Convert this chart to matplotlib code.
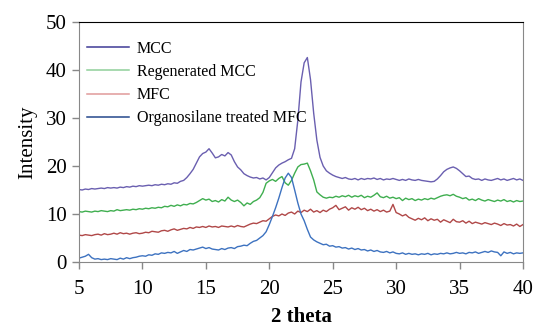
import numpy as np
import matplotlib
matplotlib.use("Agg")
import matplotlib.pyplot as plt
from matplotlib.lines import Line2D

plt.rcParams['font.family'] = ['Liberation Serif', 'DejaVu Serif']

two_theta = np.arange(5, 40.001, 0.25)

mcc = [
    15.1, 15.0, 15.2, 15.1,
    15.3, 15.2, 15.3, 15.4,
    15.3, 15.5, 15.4, 15.5,
    15.4, 15.6, 15.5, 15.7,
    15.6, 15.8, 15.7, 15.9,
    15.8, 15.9, 16.0, 15.9,
    16.1, 16.0, 16.2, 16.1,
    16.3, 16.2, 16.5, 16.4,
    16.8, 17.0, 17.6, 18.4,
    19.3, 20.6, 21.9, 22.6,
    22.9, 23.6, 22.7, 21.7,
    21.9, 22.4, 22.1, 22.8,
    22.3, 20.9, 19.8, 19.2,
    18.4, 18.0, 17.7, 17.5,
    17.6, 17.3, 17.5, 17.1,
    17.6, 18.6, 19.6, 20.2,
    20.6, 20.9, 21.3, 21.6,
    23.6, 29.5, 37.5, 41.5,
    42.6, 38.0, 31.0, 25.4,
    21.8, 20.0, 19.0, 18.5,
    18.1, 17.8, 17.6, 17.4,
    17.6, 17.3, 17.2, 17.4,
    17.1, 17.4, 17.2, 17.4,
    17.3, 17.5, 17.2, 17.4,
    17.1, 17.3, 17.2, 17.4,
    17.2, 17.0, 17.2, 17.0,
    17.3, 17.1, 17.0, 17.2,
    17.0, 16.9, 16.8, 16.7,
    16.8, 17.3, 18.0, 18.8,
    19.3, 19.6, 19.8, 19.5,
    19.0, 18.4, 17.8, 17.9,
    17.4, 17.2, 17.3, 17.0,
    17.3, 17.1, 17.0, 17.2,
    17.4, 17.1, 17.3, 17.0,
    17.2, 17.4, 17.1, 17.3,
    17.0,
]

regenerated_mcc = [
    10.5, 10.4, 10.6, 10.5,
    10.4, 10.6, 10.5, 10.7,
    10.6, 10.5, 10.7, 10.6,
    10.9, 10.7, 10.8, 10.9,
    10.8, 11.0, 10.9, 11.1,
    11.0, 11.2, 11.1, 11.3,
    11.2, 11.4, 11.3, 11.6,
    11.5, 11.8, 11.6, 11.9,
    11.7, 12.0, 11.9, 12.2,
    12.1, 12.4, 12.8, 13.2,
    12.9, 13.1, 12.6, 12.8,
    12.5, 13.0, 12.7, 13.5,
    12.9, 12.6, 12.9, 12.4,
    11.7, 12.3, 12.0, 12.6,
    12.9, 13.4, 14.5, 16.4,
    16.9, 17.2, 16.8, 17.4,
    17.8, 16.5, 16.0, 17.0,
    18.5, 19.8, 20.3, 20.4,
    20.6, 19.0, 17.1, 14.6,
    14.0, 13.5, 13.3, 13.5,
    13.4, 13.7, 13.5, 13.8,
    13.6, 13.9, 13.5, 13.8,
    13.6, 13.9, 13.4, 13.7,
    13.5, 13.9, 14.4, 13.6,
    13.4, 13.7, 13.3, 13.5,
    13.2, 13.4, 12.8, 13.3,
    13.0, 13.2, 12.8, 13.1,
    12.9, 13.2, 13.0, 13.3,
    13.1, 13.4, 13.7, 13.9,
    14.0, 13.8, 14.1, 13.7,
    13.5, 13.2, 13.4, 12.9,
    13.1, 12.8, 13.2, 12.9,
    12.7, 13.0, 12.8, 12.6,
    12.9, 12.7, 13.0, 12.6,
    12.8, 12.5, 12.8, 12.6,
    12.7,
]

mfc = [
    5.6, 5.5, 5.7, 5.6,
    5.5, 5.7, 5.8, 5.6,
    5.9, 5.7, 5.8, 6.0,
    5.8, 6.1, 5.9, 6.0,
    5.8, 6.0, 6.1, 5.9,
    6.0, 6.2, 6.1, 6.4,
    6.3, 6.2, 6.5, 6.6,
    6.4, 6.7, 6.9, 6.6,
    6.8, 7.0, 6.9, 7.2,
    7.0, 7.3, 7.2, 7.4,
    7.2, 7.5, 7.3, 7.4,
    7.2, 7.5, 7.4, 7.3,
    7.5, 7.3, 7.6, 7.4,
    7.3, 7.6, 7.9, 8.1,
    8.0, 8.3, 8.6, 8.5,
    9.0, 9.5, 9.8, 9.6,
    10.0, 9.7, 10.2, 10.4,
    10.0, 10.6, 10.3, 10.8,
    10.5, 11.0, 10.4, 10.7,
    10.3, 10.8, 10.5, 11.0,
    11.3, 11.8, 10.9, 11.2,
    11.5, 10.8, 11.3, 11.0,
    11.4, 10.9, 11.2, 10.7,
    11.0, 10.6, 10.9, 10.5,
    10.8, 10.4, 10.6, 12.0,
    10.3, 10.0, 9.6, 9.9,
    9.3, 9.0, 8.7, 9.1,
    8.8, 9.2, 8.6, 9.0,
    8.7, 8.9, 8.3, 8.8,
    8.5, 8.2, 8.9, 8.4,
    8.3, 8.6, 8.1, 8.5,
    8.0, 8.3, 8.1, 7.9,
    8.2, 8.0, 7.8, 8.1,
    7.9, 7.6, 8.0, 7.7,
    7.8, 7.5, 7.9, 7.4,
    7.8,
]

organosilane_mfc = [
    0.8, 1.0, 1.2, 1.6,
    0.9, 0.6, 0.7, 0.5,
    0.6, 0.5, 0.7, 0.6,
    0.5, 0.8, 0.6, 0.9,
    0.7, 0.9, 1.0, 1.2,
    1.3, 1.2, 1.5, 1.4,
    1.7, 1.6, 1.9, 1.8,
    2.0, 1.9, 2.2, 1.8,
    2.1, 2.4, 2.2, 2.6,
    2.5, 2.7, 2.9, 3.1,
    2.8, 3.0, 2.7, 2.6,
    2.5, 2.8, 2.6, 2.9,
    3.0, 2.8, 3.2, 3.3,
    3.5, 3.4, 3.9, 4.3,
    4.5, 5.0, 5.5, 6.3,
    7.8, 9.5, 11.3, 13.3,
    15.5, 17.5, 18.5, 17.6,
    15.0, 12.3, 10.0, 8.6,
    6.8, 5.2, 4.6, 4.2,
    3.9, 3.6, 3.7, 3.3,
    3.4, 3.1, 3.2, 2.9,
    3.0, 2.7, 2.9, 2.6,
    2.8, 2.5, 2.6, 2.3,
    2.5, 2.2, 2.4, 2.1,
    2.0, 2.2, 1.9, 2.1,
    1.8, 1.7, 1.9, 1.6,
    1.8, 1.6, 1.7, 1.5,
    1.7, 1.6, 1.8, 1.5,
    1.7, 1.6, 1.8, 1.7,
    1.9, 1.7, 1.8, 2.0,
    1.8, 1.9, 1.7, 2.0,
    1.9, 2.1, 1.8, 2.0,
    2.2, 2.0, 2.3, 2.1,
    2.0, 1.3, 2.1, 1.8,
    2.0, 1.7, 1.9, 1.8,
    1.9,
]

labels = ["MCC", "Regenerated MCC", "MFC", "Organosilane treated MFC"]
line_colors = ["#6a5fb0", "#3fae4f", "#b04848", "#3d72c0"]
legend_colors = ["#3f3a96", "#8fd09a", "#e09a9a", "#24488c"]
x_ticks = [5, 10, 15, 20, 25, 30, 35, 40]
y_ticks = [0, 10, 20, 30, 40, 50]

fig = plt.figure(figsize=(5.36, 3.29), dpi=100)
ax = fig.add_axes([79/536, 1 - 262/329, (523 - 79)/536, (262 - 22)/329])

series = [mcc, regenerated_mcc, mfc, organosilane_mfc]
for ys, c in zip(series, line_colors):
    ax.plot(two_theta, ys, color=c, lw=1.0)

ax.set_xlim(5, 40)
ax.set_ylim(0, 50)
ax.set_xticks(x_ticks)
ax.set_yticks(y_ticks)
ax.tick_params(axis='both', labelsize=15, direction='out', length=5,
               color='#888888', width=1)
ax.tick_params(axis='x', pad=8)
ax.tick_params(axis='y', pad=4)
for s in ['left', 'bottom', 'right']:
    ax.spines[s].set_color('#888888')
ax.spines['top'].set_color('black')

ax.set_xlabel("2 theta", fontsize=15, fontweight='bold', labelpad=6)
ax.set_ylabel("Intensity", fontsize=15, labelpad=6)

handles = [Line2D([], [], color=c, lw=1.1) for c in legend_colors]
ax.legend(handles, labels, loc='upper left', bbox_to_anchor=(0.004, 0.948),
          frameon=False, fontsize=11.5, handlelength=2.6, handletextpad=0.5,
          labelspacing=0.45, borderaxespad=0.0)

fig.savefig("out.png", dpi=100)
